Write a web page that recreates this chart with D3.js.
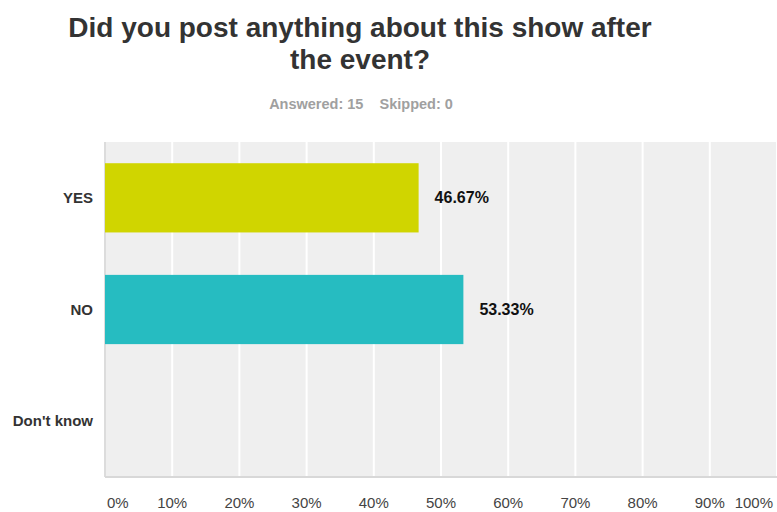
<!DOCTYPE html>
<html>
<head>
<meta charset="utf-8">
<script src="https://cdn.jsdelivr.net/npm/d3@7"></script>
<style>
  body { margin: 0; background: #fff; }
  text { font-family: "Liberation Sans", Arial, Helvetica, sans-serif; }
</style>
</head>
<body>
<div id="wrapper"></div>
<script>
const categories = ["YES", "NO", "Don't know"];
const values = [46.67, 53.33, 0];
const barColors = ["#d0d500", "#26bcc1", "#999999"];
const tickValues = [0, 10, 20, 30, 40, 50, 60, 70, 80, 90, 100];

const data = categories.map((c, i) => ({ label: c, value: values[i], color: barColors[i] }));

let dimensions = {
  width: 777,
  height: 512,
  margins: { top: 142, right: 0, bottom: 35, left: 105 },
};
dimensions.boundedWidth = dimensions.width - dimensions.margins.left - dimensions.margins.right;
dimensions.boundedHeight = dimensions.height - dimensions.margins.top - dimensions.margins.bottom;

const wrapper = d3.select("#wrapper")
  .append("svg")
    .attr("width", dimensions.width)
    .attr("height", dimensions.height);

// title + subtitle
wrapper.append("text")
  .attr("x", 360).attr("y", 37)
  .attr("text-anchor", "middle")
  .attr("font-size", 28).attr("font-weight", "bold")
  .attr("fill", "#333")
  .text("Did you post anything about this show after");
wrapper.append("text")
  .attr("x", 360).attr("y", 69)
  .attr("text-anchor", "middle")
  .attr("font-size", 28).attr("font-weight", "bold")
  .attr("fill", "#333")
  .text("the event?");
wrapper.append("text")
  .attr("x", 361).attr("y", 109)
  .attr("text-anchor", "middle")
  .attr("font-size", 14.5).attr("font-weight", "bold")
  .attr("fill", "#a0a0a0")
  .attr("xml:space", "preserve")
  .text("Answered: 15    Skipped: 0");

const bounds = wrapper.append("g")
  .attr("transform", `translate(${dimensions.margins.left},${dimensions.margins.top})`);

const xScale = d3.scaleLinear()
  .domain([0, 100])
  .range([0, dimensions.boundedWidth]);
const yScale = d3.scaleBand()
  .domain(categories)
  .range([0, dimensions.boundedHeight])
  .paddingInner(0.38)
  .paddingOuter(0.19);

bounds.append("rect")
  .attr("width", dimensions.boundedWidth)
  .attr("height", dimensions.boundedHeight)
  .attr("fill", "#efefef");

// white gridlines
bounds.selectAll(".grid")
  .data(tickValues.slice(1))
  .join("line")
    .attr("x1", d => xScale(d)).attr("x2", d => xScale(d))
    .attr("y1", 0).attr("y2", dimensions.boundedHeight)
    .attr("stroke", "#fff")
    .attr("stroke-width", 2);

bounds.append("line")
  .attr("x1", 0).attr("x2", 0)
  .attr("y1", 0).attr("y2", dimensions.boundedHeight)
  .attr("stroke", "#dcdcdc").attr("stroke-width", 2);
bounds.append("line")
  .attr("x1", 0).attr("x2", dimensions.boundedWidth)
  .attr("y1", dimensions.boundedHeight).attr("y2", dimensions.boundedHeight)
  .attr("stroke", "#d8d8d8").attr("stroke-width", 2);

bounds.selectAll(".bar")
  .data(data.filter(d => d.value > 0))
  .join("rect")
    .attr("x", 0)
    .attr("y", d => yScale(d.label))
    .attr("width", d => xScale(d.value))
    .attr("height", yScale.bandwidth())
    .attr("fill", d => d.color);

bounds.selectAll(".val")
  .data(data.filter(d => d.value > 0))
  .join("text")
    .attr("x", d => xScale(d.value) + 16)
    .attr("y", d => yScale(d.label) + yScale.bandwidth() / 2)
    .attr("dy", "0.35em")
    .attr("font-size", 16).attr("font-weight", "bold")
    .attr("fill", "#111")
    .text(d => d.value.toFixed(2) + "%");

// category labels
bounds.selectAll(".cat")
  .data(categories)
  .join("text")
    .attr("x", -12)
    .attr("y", d => yScale(d) + yScale.bandwidth() / 2)
    .attr("dy", "0.35em")
    .attr("text-anchor", "end")
    .attr("font-size", 15).attr("font-weight", "bold")
    .attr("fill", "#333")
    .text(d => d);

// x tick labels
bounds.selectAll(".tick")
  .data(tickValues)
  .join("text")
    .attr("x", d => xScale(d))
    .attr("y", dimensions.boundedHeight + 31)
    .attr("text-anchor", d => d === 0 ? "start" : d === 100 ? "end" : "middle")
    .attr("dx", d => d === 0 ? 2 : d === 100 ? -4 : 0)
    .attr("font-size", 15)
    .attr("fill", "#444")
    .text(d => d + "%");
</script>
</body>
</html>
